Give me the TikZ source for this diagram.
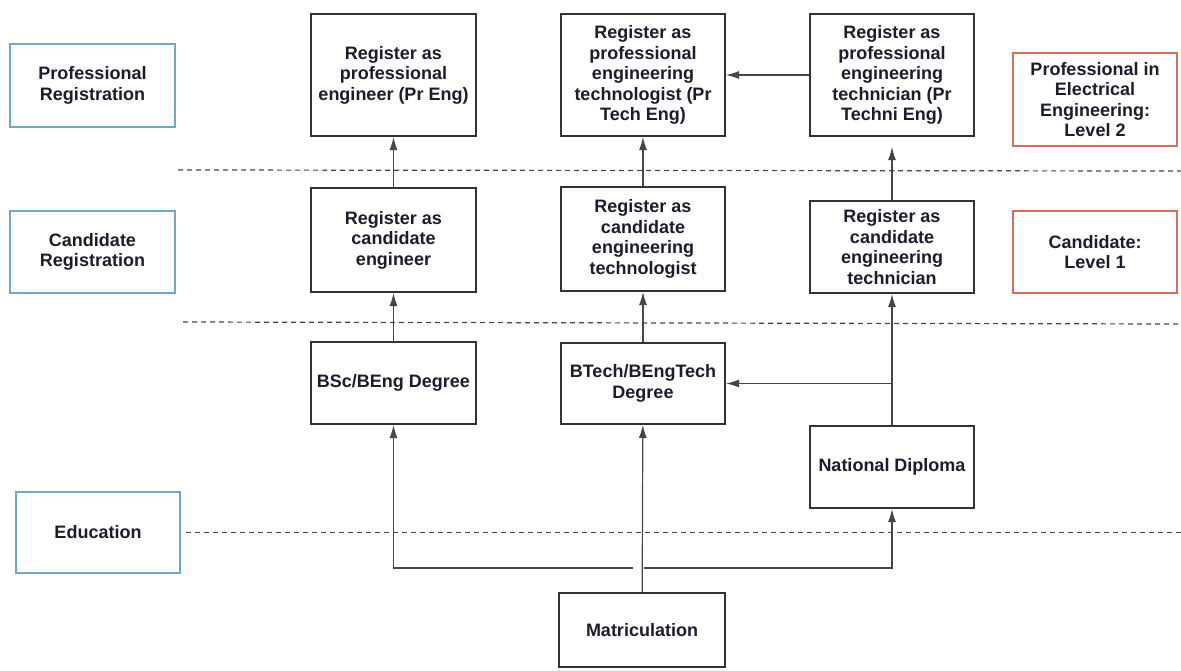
\documentclass[tikz,border=0pt]{standalone}
\usepackage{fontspec}
\setmainfont{Liberation Sans}
\usepackage{xcolor}
\usepackage{tikz}
\usetikzlibrary{arrows.meta}
\definecolor{levelblue}{RGB}{110,170,200}
\definecolor{levelred}{RGB}{214,112,92}
\definecolor{linegray}{RGB}{70,70,70}
\definecolor{boxgray}{RGB}{50,50,50}
\definecolor{textnavy}{RGB}{28,28,45}

\begin{document}
\begin{tikzpicture}[x=1pt,y=-1pt,
		box/.style={draw=boxgray,line width=2pt,fill=white,align=center,inner sep=2pt,
			text=textnavy,font=\fontsize{18}{20.5}\selectfont\bfseries,minimum width=165pt},
		stage/.style={box,draw=levelblue},
		level/.style={box,draw=levelred},
		link/.style={draw=linegray,line width=1.2pt,-{Latex[length=13pt,width=8pt]}},
		divider/.style={draw=linegray,line width=1.2pt,dash pattern=on 5pt off 4pt}]
		\useasboundingbox (0,0) rectangle (1181,670);
		\coordinate (rim) at (1181,0);
		\draw[divider] (178,170) -- (1181,171);
		\draw[divider] (183,322) -- (1181,324);
		\node[stage,minimum height=83pt] (profreg) at (92.5,85.5) {Professional\\Registration};
		\node[stage,minimum height=82pt] (candreg) at (92.5,252) {Candidate\\Registration};
		\node[stage,minimum width=164pt,minimum height=81pt] (edu) at (98,532.5) {Education};
		\draw[divider] ([xshift=5pt]edu.east) -- (edu.east -| rim);
		\node[level,minimum width=164pt,minimum height=93pt] (lvltwo) at (1095,99.5) {Professional in\\Electrical\\Engineering:\\Level 2};
		\node[level,minimum width=164pt,minimum height=82pt] (lvlone) at (1095,252) {Candidate:\\Level 1};
		\node[box,minimum height=122pt] (preng) at (393.5,75) {Register as\\professional\\engineer (Pr Eng)};
		\node[box,minimum height=104pt] (candeng) at (393.5,240) {Register as\\candidate\\engineer};
		\node[box,minimum height=82pt] (bsc) at (393.5,383) {BSc/BEng Degree};
		\node[box,minimum width=164pt,minimum height=122pt] (prtech) at (643,75) {Register as\\professional\\engineering\\technologist (Pr\\Tech Eng)};
		\node[box,minimum width=164pt,minimum height=104pt] (candtech) at (643,239) {Register as\\candidate\\engineering\\technologist};
		\node[box,minimum width=164pt,minimum height=81pt] (btech) at (643,383.5) {BTech/BEngTech\\Degree};
		\node[box,minimum width=164pt,minimum height=122pt] (prtechni) at (892,75) {Register as\\professional\\engineering\\technician (Pr\\Techni Eng)};
		\node[box,minimum width=164pt,minimum height=92pt] (candtechni) at (892,247) {Register as\\candidate\\engineering\\technician};
		\node[box,minimum width=164pt,minimum height=82pt] (nd) at (892,467) {National Diploma};
		\node[box,minimum width=166pt,minimum height=74pt] (matric) at (642,630) {Matriculation};
		\coordinate (split) at (642,568);
		\draw[link] (candeng) -- (preng);
		\draw[link] (bsc) -- (candeng);
		\draw[link] (candtech) -- (prtech);
		\draw[link] (btech) -- (candtech);
		\draw[link,shorten >=10pt] (candtechni) -- (prtechni);
		\draw[link] (nd) -- (candtechni);
		\draw[link] (prtechni) -- (prtech);
		\draw[link] (nd |- btech) -- (btech);
		\draw[link] (matric) -- (btech);
		\draw[link] ([xshift=-9pt]split) -| (bsc);
		\draw[link] ([xshift=2pt]split) -| (nd);
	\end{tikzpicture}
\end{document}
